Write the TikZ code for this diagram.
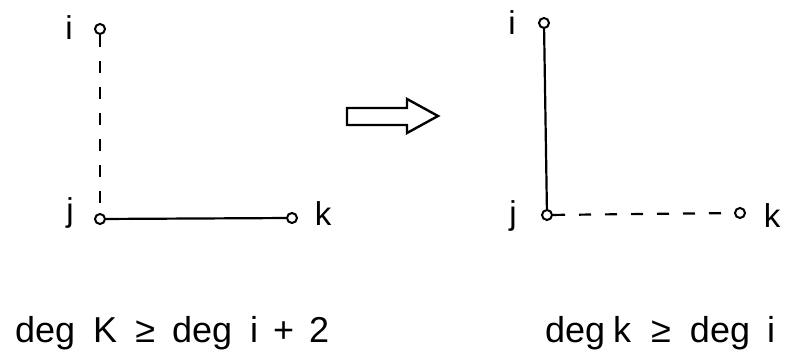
\documentclass[tikz,border=0pt]{standalone}
\usepackage{fontspec}
\setmainfont{Liberation Sans}
\begin{document}
\begin{tikzpicture}[x=1pt,y=1pt,
  vertex/.style={circle,draw,line width=2pt,fill=white,inner sep=0pt,minimum size=10pt},
  lbl/.style={anchor=base,inner sep=0pt,font=\fontsize{33}{36}\selectfont},
  cond/.style={anchor=base west,inner sep=0pt,font=\fontsize{36}{40}\selectfont},
  edge/.style={line width=2.2pt},
  dashedge/.style={line width=2.2pt,dash pattern=on 12pt off 14pt},
  bigarrow/.style={draw,line width=2.4pt,fill=white,line join=miter}]
\useasboundingbox (0,0) rectangle (790,364);
% left graph
\node[vertex] (li) at (100,335) {};
\node[vertex] (lj) at (100,145) {};
\node[vertex] (lk) at (292,146) {};
\draw[dashedge] (li) -- (lj);
\draw[edge] (lj) -- (lk);
\node[lbl] (lil) at (69,324) {i};
\node[lbl] (ljl) at (70,142) {j};
\node[lbl] (lkl) at (323,138) {k};
% right graph
\node[vertex] (ri) at (544,341) {};
\node[vertex] (rj) at (547,149) {};
\node[vertex] (rk) at (740,151) {};
\draw[edge] (ri) -- (rj);
\draw[dashedge] (rj) -- (rk);
\node[lbl] (ril) at (512,329) {i};
\node[lbl] (rjl) at (513,139) {j};
\node[lbl] (rkl) at (772,136) {k};
% block arrow
\coordinate (a1) at (347,256);
\coordinate (a2) at (407,256);
\coordinate (a3) at (407,265);
\coordinate (a4) at (438,248);
\coordinate (a5) at (407,231);
\coordinate (a6) at (407,239);
\coordinate (a7) at (347,239);
\draw[bigarrow] (a1) -- (a2) -- (a3) -- (a4) -- (a5) -- (a6) -- (a7) -- cycle;
% conditions
\node[cond] (lc) at (15,21) {deg\hspace{18pt}K\hspace{18pt}≥\hspace{17pt}deg\hspace{18pt}i\hspace{15pt}+\hspace{15pt}2};
\node[cond] (rc) at (545,21) {deg\hspace{8pt}k\hspace{20pt}≥\hspace{19pt}deg\hspace{17pt}i};
\end{tikzpicture}
\end{document}
